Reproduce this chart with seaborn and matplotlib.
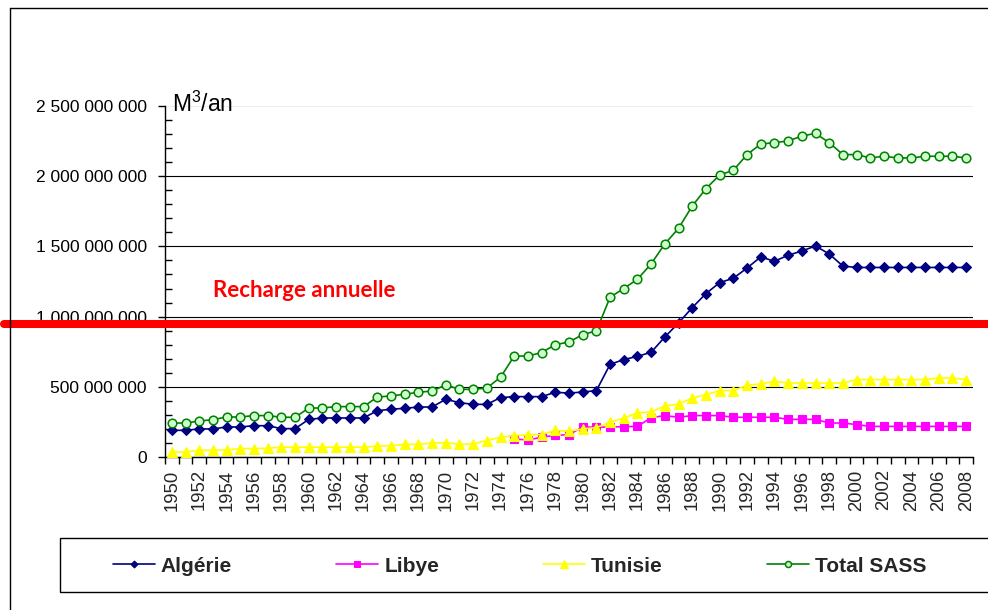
import numpy as np
import pandas as pd
import matplotlib
matplotlib.use("Agg")
import matplotlib.pyplot as plt
import seaborn as sns
from matplotlib.lines import Line2D
from matplotlib.patches import Rectangle
from matplotlib.ticker import MultipleLocator, FixedLocator, FuncFormatter

# ---------------- data (millions of m3 per year) ----------------
years = list(range(1950, 2009))

algerie = [190, 190, 200, 200, 214, 214, 223, 223, 202, 202,
           268, 278, 278, 278, 278, 330, 340, 347, 356, 356,
           411, 387, 375, 375, 423, 430, 430, 430, 461, 455,
           463, 473, 660, 694, 717, 746, 855, 955, 1064, 1164,
           1242, 1273, 1346, 1425, 1394, 1437, 1467, 1503, 1446, 1360,
           1350, 1350, 1350, 1350, 1350, 1350, 1350, 1350, 1350]

libye = [np.nan] * 25 + [130, 120, 142, 154, 159,
                         214, 212, 214, 216, 218, 280, 295, 283, 295, 295,
                         295, 283, 283, 283, 283, 268, 268, 268, 242, 242,
                         231, 218, 218, 218, 218, 218, 218, 218, 218]

tunisie = [35, 35, 48, 48, 50, 60, 60, 62, 70, 70,
           70, 70, 70, 70, 70, 78, 81, 90, 90, 100,
           102, 90, 93, 117, 141, 152, 157, 160, 190, 183,
           200, 209, 247, 278, 314, 321, 363, 377, 420, 444,
           473, 473, 511, 520, 540, 527, 527, 527, 527, 527,
           551, 551, 551, 551, 551, 551, 563, 563, 551]

total_sass = [242, 242, 256, 266, 285, 285, 295, 295, 283, 283,
              349, 349, 359, 359, 359, 427, 435, 447, 461, 470,
              513, 482, 482, 491, 568, 719, 719, 744, 800, 819,
              872, 898, 1138, 1200, 1266, 1376, 1518, 1629, 1788, 1911,
              2009, 2042, 2154, 2229, 2239, 2251, 2286, 2305, 2239, 2154,
              2154, 2130, 2142, 2130, 2130, 2142, 2142, 2142, 2130]

recharge_annuelle = 950  # millions m3

series_names = ["Algérie", "Libye", "Tunisie", "Total SASS"]
y_ticks = [0, 500, 1000, 1500, 2000, 2500]  # millions
x_tick_years = years[::2]

MILLION = 1e6

# ---------------- styling ----------------
sns.set_style("white")
plt.rcParams["font.family"] = ["Liberation Sans", "DejaVu Sans"]
plt.rcParams["mathtext.fontset"] = "custom"
plt.rcParams["mathtext.rm"] = "Liberation Sans"
plt.rcParams["mathtext.it"] = "Liberation Sans"
plt.rcParams["mathtext.default"] = "regular"

W, H = 988, 610
fig = plt.figure(figsize=(W / 100, H / 100), dpi=100)
ax = fig.add_axes([165 / W, 1 - 457 / H, (973 - 165) / W, (457 - 106) / H])

df = pd.DataFrame({
    "year": years,
    "Algérie": np.array(algerie, float) * MILLION,
    "Libye": np.array(libye, float) * MILLION,
    "Tunisie": np.array(tunisie, float) * MILLION,
    "Total SASS": np.array(total_sass, float) * MILLION,
})

styles = {
    "Algérie": dict(color="#000080", marker="D", markersize=5.0,
                    markerfacecolor="#000080", markeredgecolor="#000080",
                    markeredgewidth=0.8),
    "Libye": dict(color="#FF00FF", marker="s", markersize=5.5,
                  markerfacecolor="#FF00FF", markeredgecolor="#FF00FF",
                  markeredgewidth=0.8),
    "Tunisie": dict(color="#FFFF00", marker="^", markersize=7.5,
                    markerfacecolor="#FFFF00", markeredgecolor="#FFFF00",
                    markeredgewidth=0.8),
    "Total SASS": dict(color="#008000", marker="o", markersize=6.2,
                       markerfacecolor="#CCFFCC", markeredgecolor="#008000",
                       markeredgewidth=1.1),
}

for name in series_names:
    sns.lineplot(data=df, x="year", y=name, ax=ax, linewidth=1.2,
                 label=name, legend=False, zorder=3, **styles[name])

# axes limits and ticks
ax.set_xlim(years[0] - 0.5, years[-1] + 0.5)
ax.set_ylim(y_ticks[0] * MILLION, y_ticks[-1] * MILLION)
ax.set_xlabel("")
ax.set_ylabel("")

ax.yaxis.set_major_locator(FixedLocator([v * MILLION for v in y_ticks]))
ax.yaxis.set_minor_locator(MultipleLocator(100 * MILLION))
ax.yaxis.set_major_formatter(FuncFormatter(
    lambda v, p: f"{v:,.0f}".replace(",", " ")))

ax.xaxis.set_major_locator(FixedLocator(x_tick_years))
ax.xaxis.set_minor_locator(FixedLocator(np.arange(years[0] - 0.5, years[-1] + 1.0, 1.0)))
ax.set_xticklabels([str(y) for y in x_tick_years], rotation=90, va="top", ha="center")

ax.tick_params(axis="y", which="major", direction="out", length=5, width=1,
               pad=8, labelsize=12.5, colors="black", left=True)
ax.tick_params(axis="y", which="minor", direction="in", length=5, width=1,
               colors="black", left=True)
ax.tick_params(axis="x", which="major", length=0, pad=9, labelsize=13.3)
ax.tick_params(axis="x", which="minor", direction="out", length=5, width=1,
               colors="black", bottom=True)

# grid
ax.yaxis.grid(True, which="major", color="black", linewidth=0.8)
ax.set_axisbelow(True)
gl = ax.yaxis.get_gridlines()
gl[-1].set_color("#eeeeee")

for s in ["right", "top"]:
    ax.spines[s].set_visible(False)
for s in ["left", "bottom"]:
    ax.spines[s].set_color("black")
    ax.spines[s].set_linewidth(1.0)

# recharge line (spans the whole picture width)
x0 = (4 - 165) / (973 - 165)
x1 = (1000 - 165) / (973 - 165)
ax.axhline(recharge_annuelle * MILLION, xmin=x0, xmax=x1, color="#FF0000",
           linewidth=5.8, clip_on=False, zorder=5)

# annotation texts
rt = fig.text(213 / W, 1 - 297 / H, "Recharge annuelle", color="#FF0000",
              fontsize=14, fontweight="bold", family=["Lato", "DejaVu Sans"],
              ha="left", va="baseline")
fig.canvas.draw()
wpx = rt.get_window_extent().width
rt.set_fontsize(14 * 184 / wpx)

fig.text(172 / W, 1 - 112 / H, r"M$^{3}$/an", fontsize=16.5, ha="left",
         va="baseline", color="black")

# outer frame of the chart
fig.add_artist(Line2D([10 / W, 1.01], [1 - 8 / H, 1 - 8 / H],
                      transform=fig.transFigure, color="black", linewidth=1.0))
fig.add_artist(Line2D([10 / W, 10 / W], [1 - 8 / H, -0.01],
                      transform=fig.transFigure, color="black", linewidth=1.0))

# legend box
fig.add_artist(Rectangle((60 / W, 1 - 592 / H), (1000 - 60) / W, (592 - 538) / H,
                         transform=fig.transFigure, fill=False,
                         edgecolor="black", linewidth=1.0, clip_on=False))
handles, labels = ax.get_legend_handles_labels()
leg = fig.legend(handles, labels, loc="center left",
                 bbox_to_anchor=(113 / W, 1 - 566 / H), ncol=4,
                 frameon=False, borderpad=0, borderaxespad=0,
                 handlelength=2.0, handletextpad=0.3, columnspacing=5.0,
                 markerscale=0.7, prop=dict(weight="bold", size=15))

fig.savefig("out.png", dpi=100)
